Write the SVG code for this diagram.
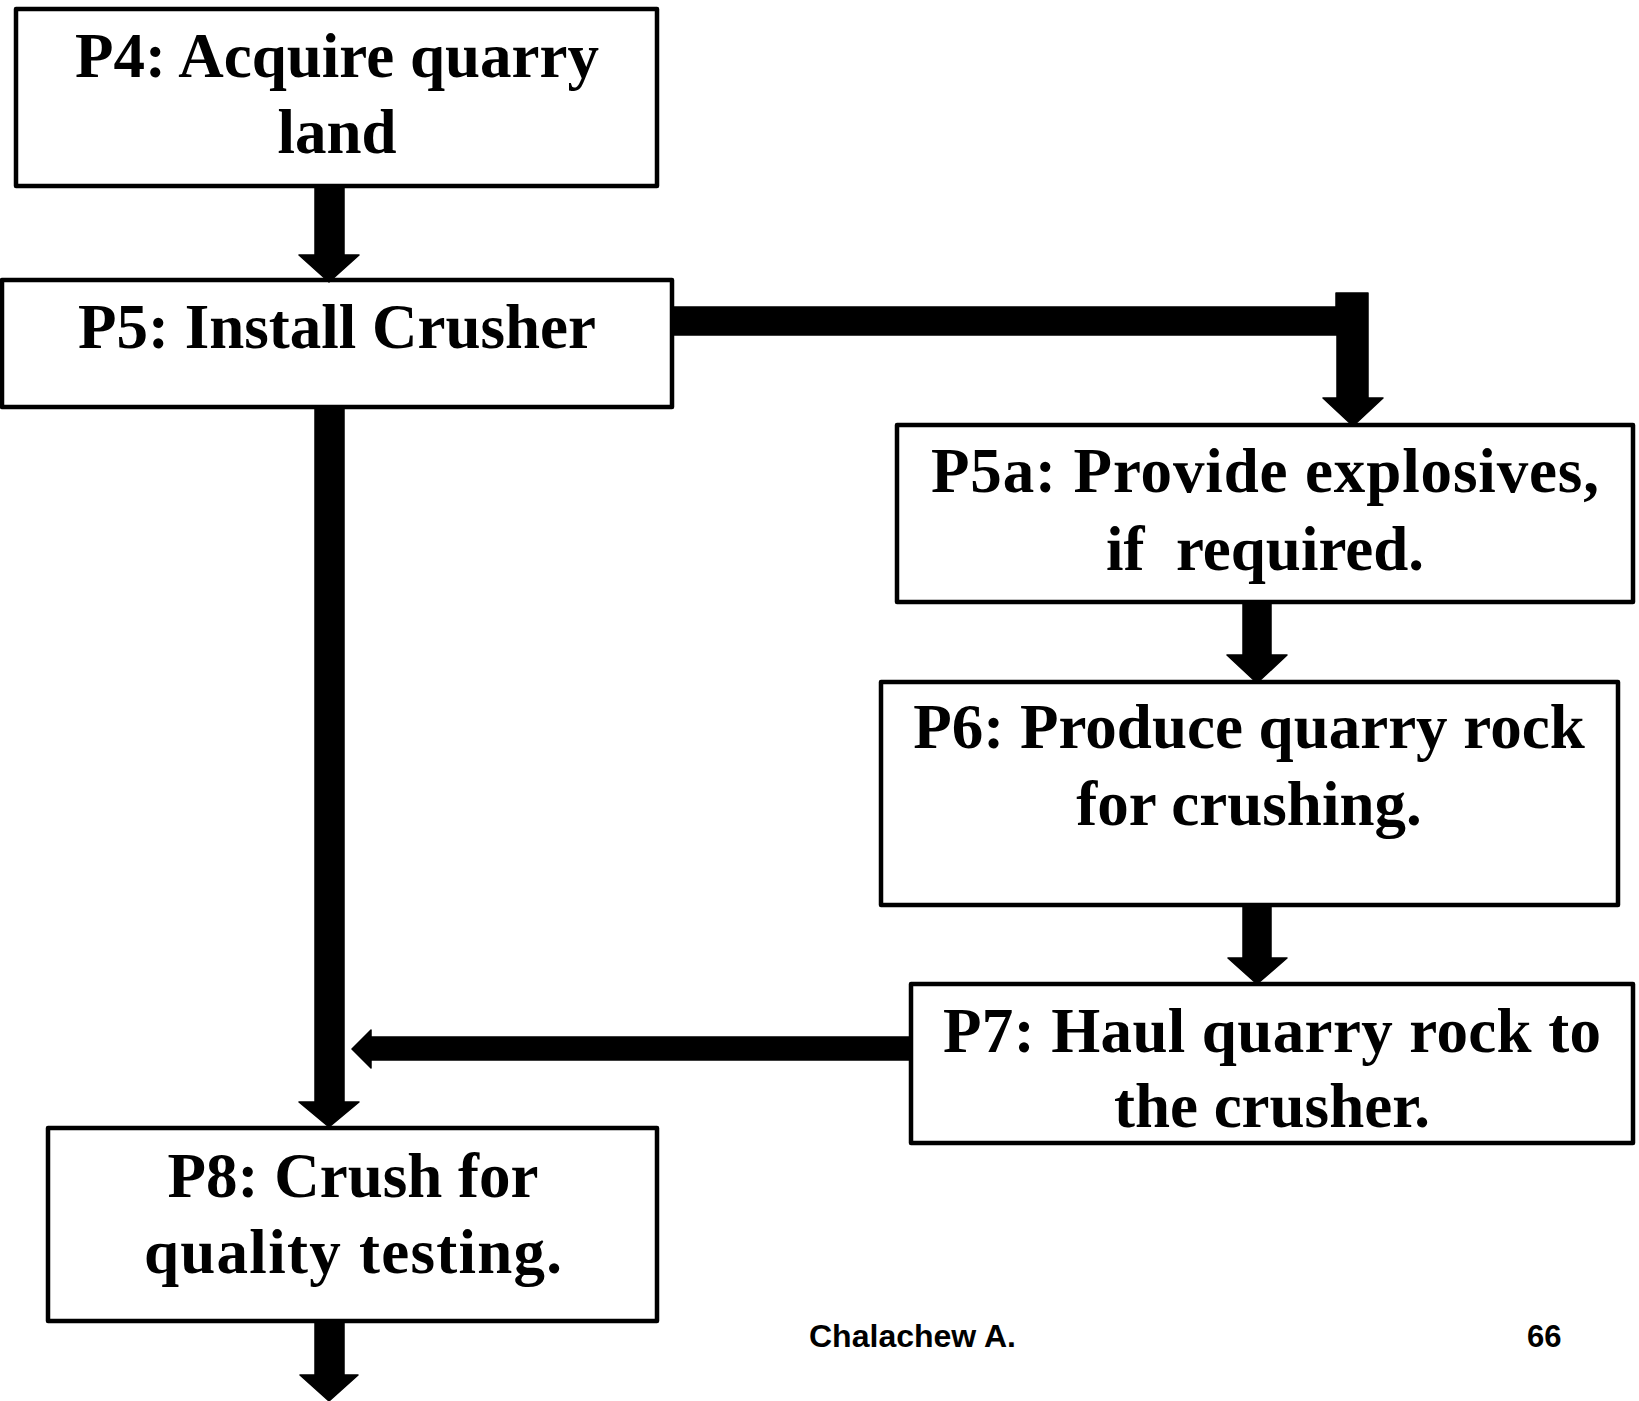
<svg xmlns="http://www.w3.org/2000/svg" width="1639" height="1401" viewBox="0 0 1639 1401">
<style>
.box{fill:#fff;stroke:#000;stroke-width:4.5;stroke-linejoin:round}
.lbl{font-family:"Liberation Serif","Times New Roman",serif;font-weight:bold;font-size:63px;fill:#000;text-anchor:middle}
.conn{fill:#000;stroke:#000;stroke-width:1.5;stroke-linejoin:round}
.foot{font-family:"Liberation Sans",Arial,sans-serif;font-weight:bold;font-size:31px;fill:#000}
</style>
<rect width="1639" height="1401" fill="#fff"/>
<g id="P4">
<rect class="box" x="16" y="9" width="641" height="177"/>
<text class="lbl" x="337" y="77">P4: Acquire quarry</text>
<text class="lbl" x="337" y="153">land</text>
</g>
<g id="P5">
<rect class="box" x="2" y="280" width="670" height="127"/>
<text class="lbl" x="337" y="348">P5: Install Crusher</text>
</g>
<g id="P5a">
<rect class="box" x="897" y="425" width="736" height="177"/>
<text class="lbl" x="1265" y="492" textLength="668" lengthAdjust="spacing">P5a: Provide explosives,</text>
<text class="lbl" x="1265" y="570" style="white-space:pre">if  required.</text>
</g>
<g id="P6">
<rect class="box" x="881" y="682" width="737" height="223"/>
<text class="lbl" x="1249" y="748">P6: Produce quarry rock</text>
<text class="lbl" x="1249" y="825">for crushing.</text>
</g>
<g id="P7">
<rect class="box" x="911" y="984" width="722" height="159"/>
<text class="lbl" x="1272" y="1052" textLength="658" lengthAdjust="spacing">P7: Haul quarry rock to</text>
<text class="lbl" x="1272" y="1127">the crusher.</text>
</g>
<g id="P8">
<rect class="box" x="48" y="1128" width="609" height="193"/>
<text class="lbl" x="353" y="1197">P8: Crush for</text>
<text class="lbl" x="353" y="1273" textLength="418" lengthAdjust="spacing">quality testing.</text>
</g>
<g id="connectors">
<polygon class="conn" points="315,186 344,186 344,255 359,255 329,282 299,255 315,255"/>
<polygon class="conn" points="315,407 344,407 344,1102 359,1102 329,1127 299,1102 315,1102"/>
<polygon class="conn" points="315,1322 344,1322 344,1375 358,1375 329,1401 300,1375 315,1375"/>
<polygon class="conn" points="1243,602 1271,602 1271,655 1287,655 1257,683 1227,655 1243,655"/>
<polygon class="conn" points="1243,905 1271,905 1271,958 1287,958 1257,984 1228,958 1243,958"/>
<polygon class="conn" points="672,307 1336,307 1336,293 1368,293 1368,398 1383,398 1353,426 1323,398 1337,398 1337,335 672,335"/>
<polygon class="conn" points="911,1037 371,1037 371,1030 352,1049 371,1068 371,1060 911,1060"/>
</g>
<g id="footer">
<text class="foot" x="809" y="1347" textLength="207" lengthAdjust="spacingAndGlyphs">Chalachew A.</text>
<text class="foot" x="1527" y="1347">66</text>
</g>
</svg>
